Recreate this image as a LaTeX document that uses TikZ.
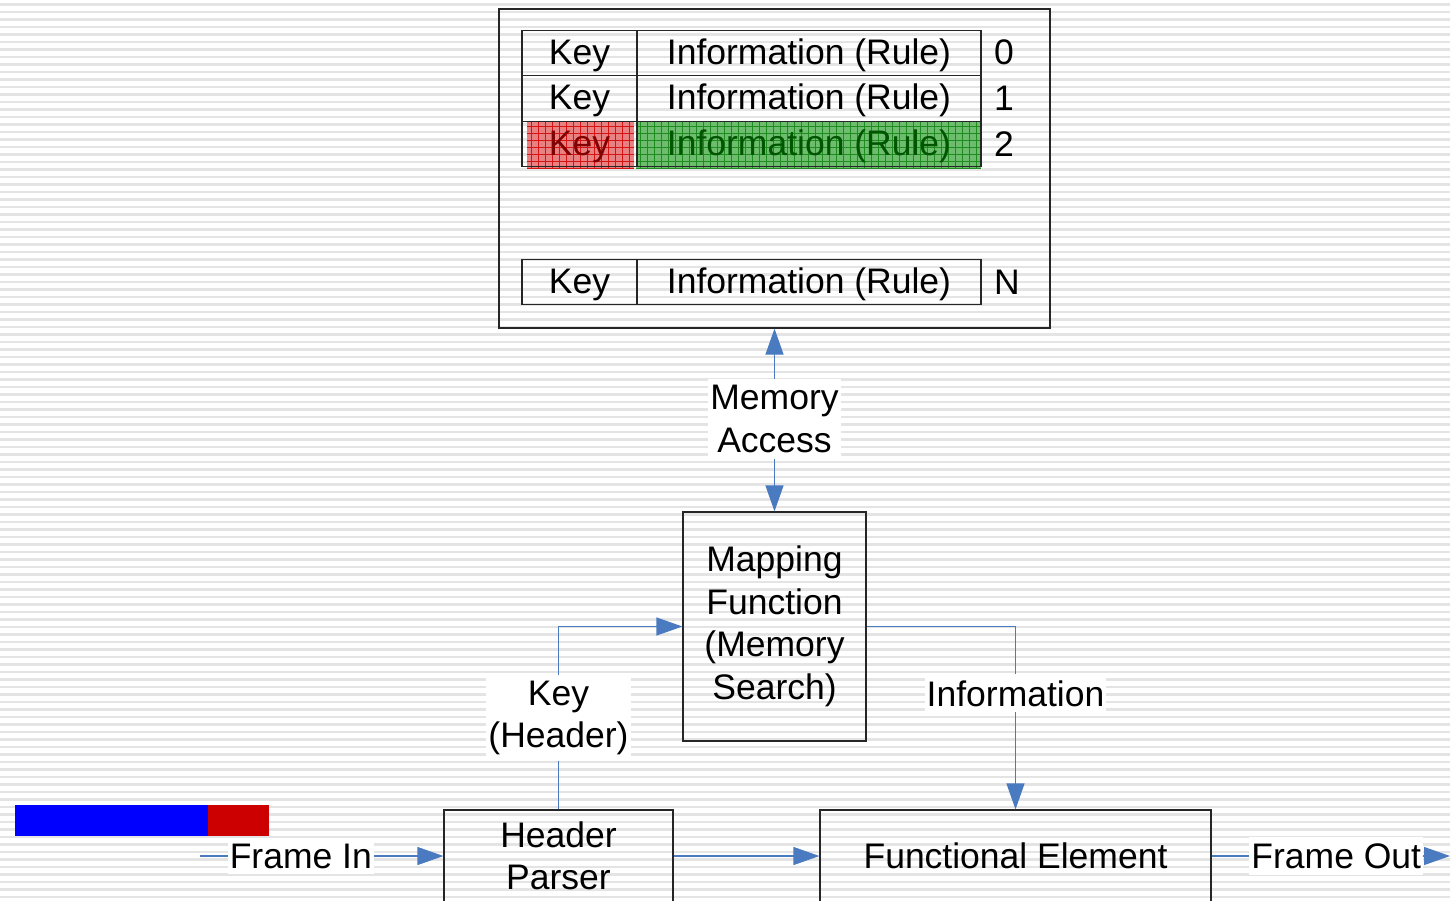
\documentclass[tikz,border=0pt]{standalone}
\usepackage{fontspec}
\setmainfont{Liberation Sans}
\usetikzlibrary{arrows.meta}
\definecolor{stripe}{RGB}{228,228,228}
\definecolor{conblue}{RGB}{74,122,192}
\definecolor{redfill}{RGB}{232,130,130}
\definecolor{redgrid}{RGB}{214,20,20}
\definecolor{greenfill}{RGB}{110,188,110}
\definecolor{greengrid}{RGB}{30,140,30}
\definecolor{redtext}{RGB}{130,0,0}
\definecolor{greentext}{RGB}{0,85,0}
\tikzset{
  txt/.style={font=\fontsize{17.75}{21.25}\selectfont, align=center, inner sep=0pt},
  boxnode/.style={txt, draw=black!85, line width=0.6pt},
  cellnode/.style={boxnode, minimum height=22.75pt, text height=15pt, text depth=3.7pt},
  lbl/.style={txt, fill=white, inner xsep=1pt, inner ysep=3pt},
  conn/.style={draw=conblue, line width=0.6pt},
  tipend/.style={-{Triangle[length=13pt,width=9pt]}},
  tipboth/.style={{Triangle[length=13pt,width=9pt]}-{Triangle[length=13pt,width=9pt]}},
}
\begin{document}
\begin{tikzpicture}[x=0.5pt,y=-0.5pt]
\clip (0,0) rectangle (1450,900);
\fill[white] (0,0) rectangle (1450,900);
\foreach \i in {0,...,119} {
  \fill[stripe] (0,{7.5*\i+3}) rectangle (1450,{7.5*\i+5.5});
}
% highlighted row fills
\fill[redfill] (527,122) rectangle (634,168);
\fill[greenfill] (636,122) rectangle (981,168);
\begin{scope}[redgrid, line width=0.25pt]
  \foreach \x in {531,538,...,634} \draw (\x,122) -- (\x,168);
  \foreach \y in {126,133,...,168} \draw (527,\y) -- (634,\y);
\end{scope}
\begin{scope}[greengrid, line width=0.25pt]
  \foreach \x in {640,647,...,981} \draw (\x,122) -- (\x,168);
  \foreach \y in {126,133,...,168} \draw (636,\y) -- (981,\y);
\end{scope}
% memory box
\node[boxnode, minimum width=275.5pt, minimum height=159.5pt] (mem) at (774.5,168.5) {};
% table rows
\node[cellnode, minimum width=57.5pt] (k0) at (579.5,53) {Key};
\node[cellnode, minimum width=172pt] (i0) at (809,53) {Information (Rule)};
\node[cellnode, minimum width=57.5pt] (k1) at (579.5,98.5) {Key};
\node[cellnode, minimum width=172pt] (i1) at (809,98.5) {Information (Rule)};
\node[cellnode, minimum width=57.5pt, text=redtext] (k2) at (579.5,144) {Key};
\node[cellnode, minimum width=172pt, text=greentext] (i2) at (809,144) {Information (Rule)};
\node[cellnode, minimum width=57.5pt] (kn) at (579.5,282) {Key};
\node[cellnode, minimum width=172pt] (in) at (809,282) {Information (Rule)};
\node[txt] (n0) at (1004,52) {0};
\node[txt] (n1) at (1004,98) {1};
\node[txt] (n2) at (1004,144) {2};
\node[txt] (nn) at (1007,282) {N};
% main blocks
\node[boxnode, minimum width=91.5pt, minimum height=114.5pt] (map) at (774.5,626.5) {Mapping\\Function\\(Memory\\Search)};
\node[boxnode, minimum width=114.5pt, minimum height=46pt] (hp) at (558.5,856) {Header\\Parser};
\node[boxnode, minimum width=195.5pt, minimum height=46pt] (fe) at (1015.5,856) {Functional Element};
% frame bars
\fill[blue] (15,805) rectangle (208,836);
\fill[red!80!black] (208,805) rectangle (269,836);
% connectors
\coordinate (fin) at (200,856);
\coordinate (fout) at (1450,856);
\draw[conn, tipboth] (mem.south) -- (map.north) node[lbl, pos=0.495] (ma) {Memory\\Access};
\draw[conn, tipend] (hp.north) |- (map.west) node[lbl, pos=0.25] (kh) {Key\\(Header)};
\draw[conn, tipend] (map.east) -| (fe.north) node[lbl, pos=0.683] (inf) {Information};
\draw[conn, tipend] (hp.east) -- (fe.west);
\draw[conn, tipend] (fin) -- (hp.west) node[lbl, pos=0.414] (fi) {Frame In};
\draw[conn, tipend] (fe.east) -- (fout) node[lbl, pos=0.523] (fo) {Frame Out};
\end{tikzpicture}
\end{document}
